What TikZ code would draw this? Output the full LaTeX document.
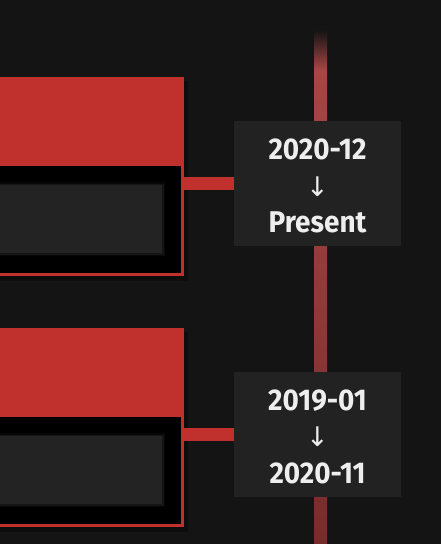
\documentclass[tikz,border=0pt]{standalone}
\usepackage{fontspec}
\newfontfamily\datefont[FakeStretch=0.93]{Fira Sans}
\newfontfamily\arrowfont{DejaVu Sans}
\usetikzlibrary{positioning,calc}

\definecolor{bg}{HTML}{141414}
\definecolor{cardred}{HTML}{C0302C}
\definecolor{datebox}{HTML}{222222}
\definecolor{panel}{HTML}{232323}
\definecolor{linered}{HTML}{A84545}
\definecolor{linedark}{HTML}{772C2C}
\definecolor{datetext}{HTML}{EEEEEE}

\tikzset{
  cardhead/.style={fill=cardred, inner sep=0, minimum width=384, minimum height=89},
  cardbody/.style={fill=cardred, inner sep=0, minimum width=384, minimum height=110},
  cardhole/.style={fill=black, inner sep=0, minimum width=381, minimum height=107},
  cardpanel/.style={fill=panel, inner sep=0, minimum width=362, minimum height=68},
  datenode/.style={fill=datebox, inner sep=0, minimum width=167, minimum height=125},
  datetext/.style={text=datetext, align=center, yshift=-2.5pt,
    font=\datefont\bfseries\fontsize{30}{36.5}\selectfont},
  connector/.style={cardred, line width=13}
}
\newcommand{\datearrow}{{\arrowfont\mdseries\fontsize{27}{36.5}\selectfont ↓}}

\begin{document}
\begin{tikzpicture}[x=1pt,y=-1pt]
  \useasboundingbox (0,0) rectangle (441,544);
  \fill[bg] (0,0) rectangle (441,544);

  % timeline
  \shade[top color=bg, bottom color=linered] (314,30) rectangle (327,70);
  \shade[top color=linered, bottom color=linedark] (314,70) rectangle (327,544);

  % first card
  \node[cardhead] (head1) at (-8,121.5) {};
  \node[cardbody, below=0pt of head1] (body1) {};
  \fill[black!95] ($(head1.north west)+(4,4)$) rectangle ($(body1.south east)+(4,4)$);
  \node[cardhead] at (head1) {};
  \node[cardbody] at (body1) {};
  \node[cardhole, anchor=north west] (hole1) at (body1.north west) {};
  \fill[black!80!panel] ($(hole1.north east)+(-16,16)$) rectangle ($(hole1.north east)+(-400,90)$);
  \fill[black!40!panel] ($(hole1.north east)+(-17.5,17.5)$) rectangle ($(hole1.north east)+(-400,88.5)$);
  \node[cardpanel, anchor=north east] (panel1) at ($(hole1.north east)+(-19,19)$) {};

  % second card
  \node[cardhead] (head2) at (-8,372.5) {};
  \node[cardbody, below=0pt of head2] (body2) {};
  \fill[black!95] ($(head2.north west)+(4,4)$) rectangle ($(body2.south east)+(4,4)$);
  \node[cardhead] at (head2) {};
  \node[cardbody] at (body2) {};
  \node[cardhole, anchor=north west] (hole2) at (body2.north west) {};
  \fill[black!80!panel] ($(hole2.north east)+(-16,16)$) rectangle ($(hole2.north east)+(-400,90)$);
  \fill[black!40!panel] ($(hole2.north east)+(-17.5,17.5)$) rectangle ($(hole2.north east)+(-400,88.5)$);
  \node[cardpanel, anchor=north east] (panel2) at ($(hole2.north east)+(-19,19)$) {};

  % dates
  \node[datenode] (date1) at (317.5,183.5) {};
  \node[datetext] (when1) at (date1) {2020-12\\\datearrow\\Present};
  \node[datenode] (date2) at (317.5,434) {};
  \node[datetext] (when2) at (date2) {2019-01\\\datearrow\\2020-11};

  \draw[connector] (date1.west) -- (date1.west -| body1.east);
  \draw[connector] (date2.west) -- (date2.west -| body2.east);
\end{tikzpicture}
\end{document}
